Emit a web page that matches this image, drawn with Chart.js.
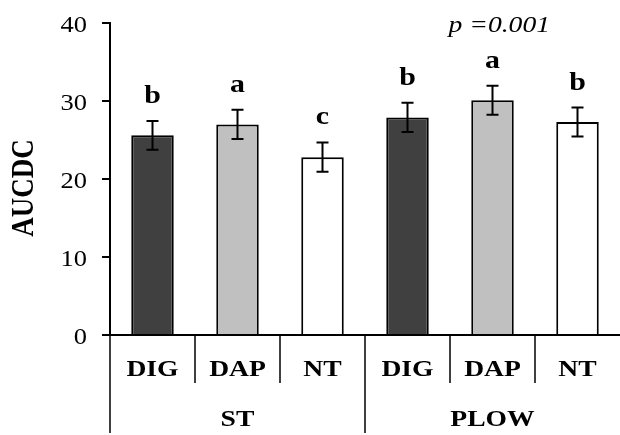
<!DOCTYPE html>
<html>
<head>
<meta charset="utf-8">
<script src="https://cdn.jsdelivr.net/npm/chart.js@4.4.0/dist/chart.umd.min.js"></script>
<style>
  body { margin: 0; background: #fff; }
  #wrap { width: 620px; height: 435px; }
</style>
</head>
<body>
<div id="wrap"><canvas id="myChart"></canvas></div>
<script>
const categories = ['DIG', 'DAP', 'NT', 'DIG', 'DAP', 'NT'];
const groups = ['ST', 'PLOW'];
const means = [25.6, 27.0, 22.8, 27.9, 30.1, 27.3];
const errors = [1.85, 1.87, 1.88, 1.88, 1.85, 1.86];
const letters = ['b', 'a', 'c', 'b', 'a', 'b'];
const yTicks = [0, 10, 20, 30, 40];
const yTitle = 'AUCDC';
const pText = 'p =0.001';

const colors = ['#404040', '#c0c0c0', '#ffffff', '#404040', '#c0c0c0', '#ffffff'];
const SX = 1.15; // the original text is a bit wider than Times

const drawText = (ctx, s, x, y, font, align) => {
  ctx.save();
  ctx.font = font;
  ctx.textAlign = align;
  ctx.textBaseline = 'alphabetic';
  ctx.fillStyle = '#000';
  ctx.translate(x, y);
  ctx.scale(SX, 1);
  ctx.fillText(s, 0, 0);
  ctx.restore();
};

const extras = {
  id: 'extras',
  afterDraw(chart) {
    const ctx = chart.ctx;
    const xs = chart.scales.x;
    const ys = chart.scales.y;
    const area = chart.chartArea;
    const half = (xs.getPixelForValue(1) - xs.getPixelForValue(0)) / 2;
    const serif = '"Liberation Serif", "Times New Roman", serif';

    // error bars + letters
    ctx.save();
    ctx.strokeStyle = '#000';
    ctx.lineWidth = 2;
    means.forEach((m, i) => {
      const x = xs.getPixelForValue(i);
      const top = ys.getPixelForValue(m + errors[i]);
      const bot = ys.getPixelForValue(m - errors[i]);
      ctx.beginPath();
      ctx.moveTo(x, top); ctx.lineTo(x, bot);
      ctx.moveTo(x - 6, top); ctx.lineTo(x + 6, top);
      ctx.moveTo(x - 6, bot); ctx.lineTo(x + 6, bot);
      ctx.stroke();
      drawText(ctx, letters[i], x, top - 18, 'bold 26px ' + serif, 'center');
    });

    // category separators below the axis
    ctx.lineWidth = 1.5;
    for (let i = 0; i < categories.length; i++) {
      const x = xs.getPixelForValue(i) - half;
      const long = i % 3 === 0;
      ctx.beginPath();
      ctx.moveTo(x, area.bottom);
      ctx.lineTo(x, long ? area.bottom + 98 : area.bottom + 48);
      ctx.stroke();
    }
    ctx.restore();

    // category and group labels
    categories.forEach((c, i) => {
      drawText(ctx, c, xs.getPixelForValue(i), area.bottom + 41, 'bold 24px ' + serif, 'center');
    });
    groups.forEach((g, j) => {
      drawText(ctx, g, xs.getPixelForValue(j * 3 + 1), area.bottom + 91, 'bold 24px ' + serif, 'center');
    });

    // y tick labels
    yTicks.forEach(v => {
      drawText(ctx, String(v), area.left - 23, ys.getPixelForValue(v) + 9, '23px ' + serif, 'right');
    });

    // p value
    drawText(ctx, pText, area.right - 70, area.top + 9, 'italic 24px ' + serif, 'right');

    // y title
    ctx.save();
    ctx.font = 'bold 27px ' + serif;
    ctx.textAlign = 'center';
    ctx.textBaseline = 'alphabetic';
    ctx.fillStyle = '#000';
    ctx.translate(area.left - 77, (area.top + area.bottom) / 2 + 9);
    ctx.scale(SX, 1);
    ctx.rotate(-Math.PI / 2);
    ctx.fillText(yTitle, 0, 0);
    ctx.restore();
  }
};

const renderChart = () => {
  const ctx = document.getElementById('myChart');
  new Chart(ctx, {
    type: 'bar',
    data: {
      labels: categories,
      datasets: [{
        data: means,
        backgroundColor: colors,
        borderColor: '#000',
        borderWidth: 2,
        categoryPercentage: 1.0,
        barPercentage: 0.5
      }]
    },
    options: {
      responsive: true,
      maintainAspectRatio: false,
      animation: false,
      layout: { padding: { top: 23, right: 0, bottom: 0, left: 0 } },
      plugins: {
        legend: { display: false },
        tooltip: { enabled: false }
      },
      scales: {
        x: {
          z: 1,
          afterFit: (scale) => { scale.height = 100; },
          grid: { display: false },
          border: { display: true, color: '#000', width: 2 },
          ticks: { display: false }
        },
        y: {
          min: 0,
          max: 40,
          afterFit: (scale) => { scale.width = 110; },
          ticks: { display: false, stepSize: 10 },
          grid: { drawOnChartArea: false, drawTicks: true, tickLength: 8, color: '#000', lineWidth: 2 },
          border: { display: true, color: '#000', width: 2 }
        }
      }
    },
    plugins: [extras]
  });
};

renderChart();
</script>
</body>
</html>
